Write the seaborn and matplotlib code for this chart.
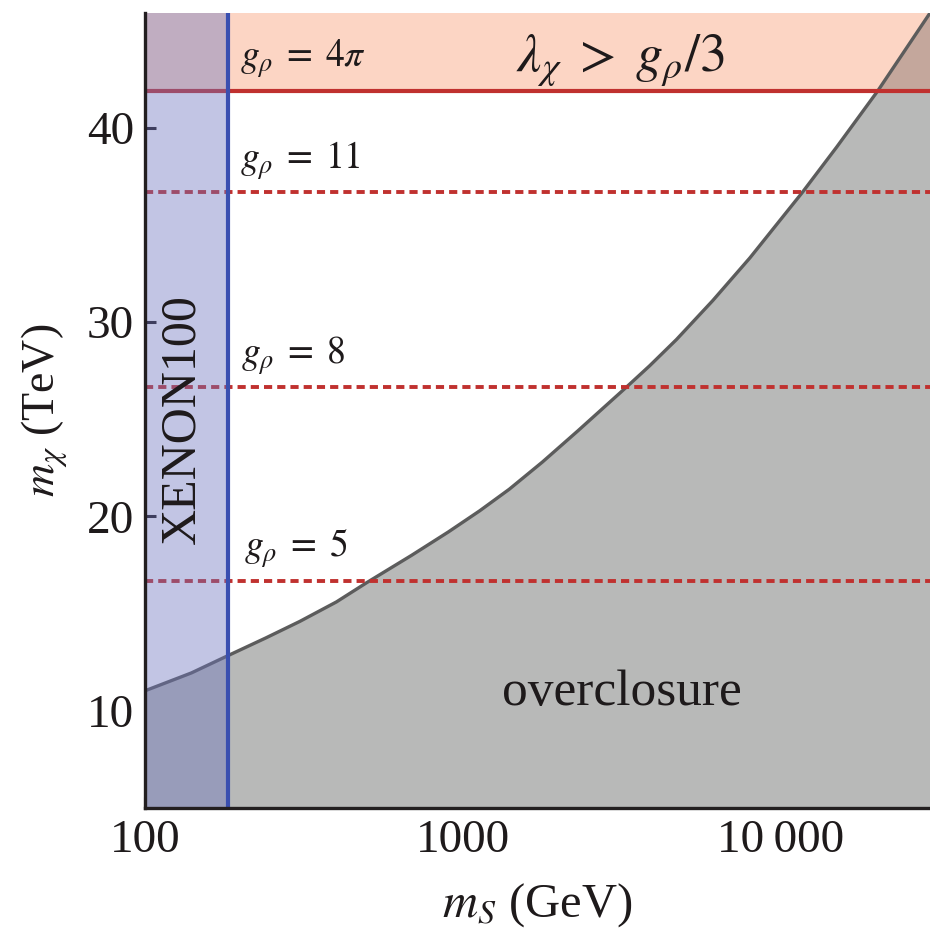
import numpy as np
import matplotlib
matplotlib.use("Agg")
import matplotlib.pyplot as plt
import seaborn as sns
from matplotlib.patches import Rectangle
from matplotlib.ticker import FixedLocator, FixedFormatter, NullLocator

# relic-density (overclosure) boundary
ms_curve = [100, 140, 183, 240, 307, 400, 498, 690, 900, 1130, 1400, 1780,
            2300, 3280, 3870, 4700, 6110, 8000, 11700, 15000, 20200, 29500]
mchi_curve = [11.03, 11.95, 12.85, 13.75, 14.6, 15.6, 16.59, 18.0, 19.2, 20.29,
              21.4, 22.8, 24.4, 26.67, 27.75, 29.1, 31.1, 33.3, 36.67, 39.0,
              41.89, 45.9]

# coupling contours: m_chi (TeV) for each g_rho
g_mchi = [16.67, 26.67, 36.67]
g_labels = [r"$g_\rho\;=\;5$", r"$g_\rho\;=\;8$", r"$g_\rho\;=\;11$"]
g_max_mchi = 41.89          # g_rho = 4 pi
xenon_ms = 183              # XENON100 bound on m_S (GeV)

x_min, x_max = 100, 29500
y_min, y_max = 5, 45.9

x_ticks = [100, 1000, 10000]
x_ticklabels = ["100", "1000", "10\u2009000"]
y_ticks = [10, 20, 30, 40]

sns.set_theme(style="ticks")
plt.rcParams["font.family"] = ["Liberation Serif", "DejaVu Serif"]
plt.rcParams["mathtext.fontset"] = "stix"
plt.rcParams["text.color"] = "#1e1a1b"
plt.rcParams["axes.labelcolor"] = "#1e1a1b"
plt.rcParams["xtick.color"] = "#1e1a1b"
plt.rcParams["ytick.color"] = "#1e1a1b"

fig = plt.figure(figsize=(9.3, 9.34), dpi=100)
ax = fig.add_axes([145 / 930, 1 - 808 / 934, 1 - 145 / 930, (808 - 13) / 934])
ax.set_xscale("log")

# overclosure region (below the curve)
ax.fill_between(ms_curve, y_min, mchi_curve, color="#b8b9b8", lw=0, zorder=1)

# perturbativity band on top
ax.axhspan(g_max_mchi, y_max, color="#fcd5c4", lw=0, zorder=1.2)
clip_top = Rectangle((x_min, g_max_mchi), x_max - x_min, y_max - g_max_mchi,
                     transform=ax.transData)
over = ax.fill_between(ms_curve, y_min, mchi_curve, color="#c4a79c", lw=0, zorder=1.4)
over.set_clip_path(clip_top)

sns.lineplot(x=ms_curve, y=mchi_curve, ax=ax, color="#5c5c5c", lw=2.4,
             sort=True, zorder=2)

# coupling lines
ax.axhline(g_max_mchi, color="#c0312f", lw=3.0, zorder=2.5)
for m in g_mchi:
    ax.axhline(m, color="#c0312f", lw=2.8, dashes=(2.1, 1.3), zorder=2.5)

# XENON100 excluded band
ax.axvspan(x_min, xenon_ms, color=(108 / 255, 116 / 255, 191 / 255), alpha=0.41,
           lw=0, zorder=3)
ax.axvline(xenon_ms, color="#3a4fb0", lw=3.0, zorder=4)

# annotations
ax.text(199, 43.56, r"$g_\rho\;=\;4\pi$", fontsize=27, ha="left", va="center", zorder=5)
label_pos = [(205, 18.34), (201, 28.27), (199, 38.3)]
for (xt, yt), lab in zip(label_pos, g_labels):
    ax.text(xt, yt, lab, fontsize=27, ha="left", va="center", zorder=5)
ax.text(3120, 43.45, r"$\lambda_\chi\;>\;g_\rho/3$", fontsize=39, ha="center",
        va="center", zorder=5)
ax.text(3162, 10.93, "overclosure", fontsize=37, ha="center", va="center", zorder=5)
ax.text(131, 25.03, "XENON100", fontsize=36, rotation=90, ha="center",
        va="center", zorder=5)

ax.set_xlim(x_min, x_max)
ax.set_ylim(y_min, y_max)
ax.xaxis.set_major_locator(FixedLocator(x_ticks))
ax.xaxis.set_major_formatter(FixedFormatter(x_ticklabels))
ax.xaxis.set_minor_locator(NullLocator())
ax.set_yticks(y_ticks)
ax.tick_params(direction="in", length=8, width=2.2, labelsize=34, pad=8)

for side in ["top", "right"]:
    ax.spines[side].set_visible(False)
for side in ["left", "bottom"]:
    ax.spines[side].set_linewidth(2.4)
    ax.spines[side].set_color("#231f20")
    ax.spines[side].set_zorder(6)

ax.set_xlabel(r"$m_S$ (GeV)", fontsize=35, labelpad=14)
ax.set_ylabel(r"$m_\chi$ (TeV)", fontsize=33, labelpad=12)

fig.savefig("out.png", dpi=100)
